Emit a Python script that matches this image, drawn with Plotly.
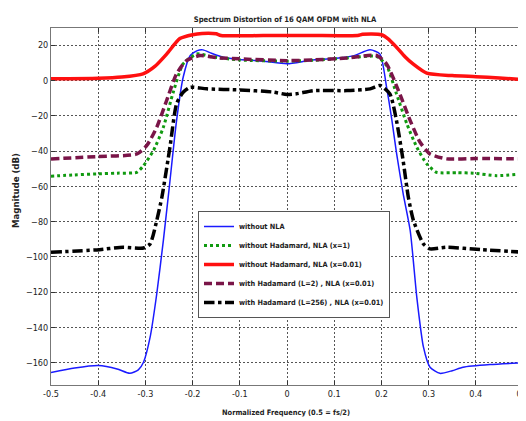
import plotly.graph_objects as go

# ---- data ----
blue_x = [-0.5, -0.45, -0.40, -0.36, -0.333, -0.315, -0.304, -0.29, -0.276, -0.262, -0.25, -0.234, -0.22, -0.205, -0.19, -0.178, -0.16, -0.135, -0.1, -0.05, 0.0, 0.05, 0.1, 0.14, 0.176, 0.197, 0.211, 0.222, 0.232, 0.246, 0.261, 0.275, 0.289, 0.303, 0.324, 0.35, 0.373, 0.43, 0.5]
blue_y = [-165.5, -163, -161.6, -163.5, -166, -164, -159.7, -145.5, -121, -90.7, -62, -22.7, 1.9, 14.2, 17, 17.4, 15.5, 13.2, 12, 11, 9.5, 11.5, 12.5, 14, 17.4, 15, -3.8, -22, -41, -64, -85, -122.8, -151, -162.5, -166, -164.5, -162.5, -161, -160]

red_x = [-0.5, -0.4, -0.35, -0.305, -0.28, -0.255, -0.227, -0.2, -0.18, -0.15, -0.14, -0.05, 0.05, 0.15, 0.16, 0.2, 0.215, 0.232, 0.25, 0.267, 0.296, 0.35, 0.4, 0.45, 0.5]
red_y = [1.0, 1.3, 2.0, 3.8, 8, 15, 23.8, 26, 26.7, 26.5, 25.6, 25.5, 25.5, 25.6, 26.2, 26, 23.5, 18.9, 13.5, 9.4, 4.2, 2.8, 2.2, 1.5, 0.6]

green_x = [-0.5, -0.45, -0.403, -0.36, -0.318, -0.304, -0.283, -0.262, -0.241, -0.22, -0.191, -0.16, -0.1, 0.0, 0.056, 0.127, 0.19, 0.211, 0.232, 0.254, 0.275, 0.296, 0.317, 0.36, 0.395, 0.444, 0.5]
green_y = [-54.2, -53.5, -52.9, -52.5, -52, -48.2, -39.7, -26.5, -6.6, 9.4, 15.1, 13.5, 11.7, 11, 11.5, 12.8, 13.6, 8.5, -7.6, -24.6, -37.8, -47.2, -52, -52.2, -52.5, -53.9, -52.9]

maroon_x = [-0.5, -0.403, -0.318, -0.297, -0.276, -0.255, -0.234, -0.213, -0.184, -0.15, -0.1, 0.0, 0.056, 0.127, 0.19, 0.211, 0.239, 0.261, 0.282, 0.303, 0.338, 0.4, 0.5]
maroon_y = [-44.4, -43.1, -41.6, -36.8, -26.5, -11.3, 3.8, 11.3, 14.2, 13, 12.3, 11.3, 11.7, 12.8, 14.2, 9.4, -7.6, -22.7, -35, -41.6, -44.4, -44.2, -44.4]

black_x = [-0.5, -0.403, -0.347, -0.304, -0.29, -0.276, -0.265, -0.248, -0.234, -0.22, -0.205, -0.17, -0.1, -0.03, 0.0, 0.02, 0.056, 0.127, 0.176, 0.197, 0.218, 0.232, 0.246, 0.257, 0.268, 0.289, 0.303, 0.338, 0.409, 0.5]
black_y = [-97.3, -96, -94.5, -94.9, -92.6, -79.4, -66, -37.8, -13.2, -6.6, -3.8, -4.7, -5.3, -6.5, -7.9, -7.5, -5.7, -5.7, -4.7, -2.8, -7.6, -22.7, -45.3, -66, -79.4, -92.6, -95.4, -94.5, -95.8, -97.3]

x_ticks = [-0.5, -0.4, -0.3, -0.2, -0.1, 0, 0.1, 0.2, 0.3, 0.4, 0.5]
x_tick_labels = ["-0.5", "-0.4", "-0.3", "-0.2", "-0.1", "0", "0.1", "0.2", "0.3", "0.4", "0.5"]
y_ticks = [-160, -140, -120, -100, -80, -60, -40, -20, 0, 20]

names = ["without NLA", "without Hadamard, NLA (x=1)", "without Hadamard, NLA (x=0.01)",
         "with Hadamard (L=2) , NLA (x=0.01)", "with Hadamard (L=256) , NLA (x=0.01)"]

FONT = "DejaVu Sans Condensed, Liberation Sans Narrow, Arial Narrow, sans-serif"

fig = go.Figure()
fig.add_trace(go.Scatter(x=blue_x, y=blue_y, name="<b>" + names[0] + "</b>", mode="lines",
                         line=dict(color="#1a1aff", width=1.5, shape="spline", smoothing=0.6)))
fig.add_trace(go.Scatter(x=green_x, y=green_y, name="<b>" + names[1] + "</b>", mode="lines",
                         line=dict(color="#109a10", width=3, dash="dot", shape="spline", smoothing=0.6)))
fig.add_trace(go.Scatter(x=red_x, y=red_y, name="<b>" + names[2] + "</b>", mode="lines",
                         line=dict(color="#ff1010", width=3.5, shape="spline", smoothing=0.6)))
fig.add_trace(go.Scatter(x=maroon_x, y=maroon_y, name="<b>" + names[3] + "</b>", mode="lines",
                         line=dict(color="#7a1548", width=3.5, dash="8px,4px", shape="spline", smoothing=0.6)))
fig.add_trace(go.Scatter(x=black_x, y=black_y, name="<b>" + names[4] + "</b>", mode="lines",
                         line=dict(color="#000000", width=3.5, dash="dashdot", shape="spline", smoothing=0.6)))

axis_common = dict(showline=True, linecolor="#777", linewidth=1, mirror="ticks",
                   ticks="inside", ticklen=4, tickcolor="#333",
                   showgrid=True, gridcolor="#555", griddash="2px,2px", gridwidth=1,
                   zeroline=False, ticklabeloverflow="allow", automargin=False,
                   tickfont=dict(family=FONT, size=9, color="#222"))

# page body has an 8px margin, so the figure is sized/offset to compensate
fig.update_layout(
    width=518, height=413, autosize=False,
    margin=dict(l=43, r=3, t=20, b=36, autoexpand=False),
    paper_bgcolor="white", plot_bgcolor="white",
    font=dict(family=FONT, color="#222"),
    title=dict(text="<b>Spectrum Distortion of 16 QAM OFDM with NLA</b>",
               x=(285 - 8) / 518, xanchor="center", y=1 - 11 / 413, yanchor="middle",
               font=dict(family=FONT, size=7.6, color="#222"), automargin=False),
    xaxis=dict(range=[-0.5, 0.5], tickvals=x_ticks, ticktext=x_tick_labels, **axis_common),
    yaxis=dict(range=[-172.6, 29.8], tickvals=y_ticks, **axis_common),
    legend=dict(x=(198 - 51) / 472, y=(385 - 211) / 357, xanchor="left", yanchor="top",
                bgcolor="white", bordercolor="#555", borderwidth=1,
                font=dict(family=FONT, size=7.3, color="#222"),
                itemwidth=30, tracegroupgap=0),
    showlegend=True,
)

fig.add_annotation(text="<b>Magnitude (dB)</b>", xref="paper", yref="paper",
                   x=-36 / 472, y=(385 - 191) / 357, textangle=-90, showarrow=False,
                   xanchor="center", yanchor="middle",
                   font=dict(family=FONT, size=9.5, color="#222"))
fig.add_annotation(text="<b>Normalized Frequency (0.5 = fs/2)</b>", xref="paper", yref="paper",
                   x=(285.5 - 51) / 472, y=-27 / 357, showarrow=False, xanchor="center", yanchor="middle",
                   font=dict(family=FONT, size=7.4, color="#222"))

fig.write_html("out.html")
